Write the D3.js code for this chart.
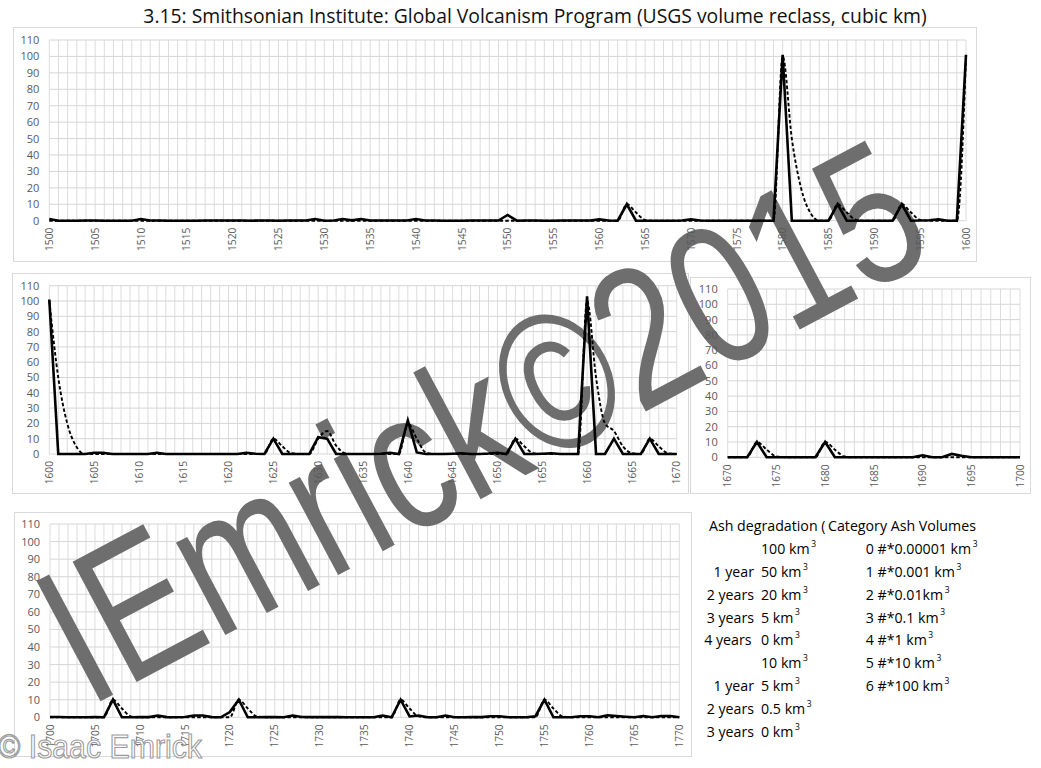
<!DOCTYPE html>
<html><head><meta charset="utf-8">
<script src="https://cdn.jsdelivr.net/npm/d3@7"></script>
<style>body{margin:0;background:#fff;overflow:hidden}</style>
</head><body>
<svg id="c" width="1041" height="768"></svg>
<script>
// ---------- DATA ----------
const titleText = "3.15: Smithsonian Institute: Global Volcanism Program (USGS volume reclass, cubic km)";
const yTickValues = [0, 10, 20, 30, 40, 50, 60, 70, 80, 90, 100, 110];

// eruption volume (solid) and ash degradation (dashed), one value per year
const volume1500 = [
  1, 0, 0, 0, 0.1, 0.1, 0, 0, 0, 0,
  1, 0.1, 0.1, 0, 0, 0, 0, 0.1, 0.1, 0.1,
  0.1, 0.1, 0, 0.1, 0.1, 0, 0.1, 0.1, 0.1, 1,
  0, 0.1, 1, 0.2, 1, 0.1, 0.1, 0.1, 0.1, 0.1,
  1, 0.1, 0.1, 0, 0, 0, 0.1, 0.1, 0.1, 0.1,
  3.5, 0, 0.1, 0.1, 0, 0, 0.1, 0.1, 0.1, 0.1,
  0.8, 0.1, 0, 10, 0, 0, 0, 0, 0, 0.1,
  0.8, 0.1, 0, 0, 0, 0, 0, 0, 0, 0,
  101, 0, 0, 0, 0, 0, 10, 0, 0, 0,
  0, 0, 0, 10, 0, 0.1, 0.3, 0.8, 0, 0,
  101];
const ash1500 = [
  0, 0, 0, 0, 0, 0, 0, 0, 0, 0,
  0, 0, 0, 0, 0, 0, 0, 0, 0, 0,
  0, 0, 0, 0, 0, 0, 0, 0, 0, 0,
  0, 0, 0, 0, 0, 0, 0, 0, 0, 0,
  0, 0, 0, 0, 0, 0, 0, 0, 0, 0,
  0, 0, 0, 0, 0, 0, 0, 0, 0, 0,
  0, 0, 0, 10, 5, 0.5, 0, 0, 0, 0,
  0, 0, 0, 0, 0, 0, 0, 0, 0, 0,
  100, 50, 20, 5, 0, 0, 10, 5, 0.5, 0,
  0, 0, 0, 10, 5, 0.5, 0, 0, 0, 0,
  100];

const volume1600 = [
  101, 0, 0, 0, 0, 0.8, 0.8, 0, 0, 0,
  0, 0, 0.8, 0, 0, 0, 0, 0, 0, 0,
  0, 0, 0.8, 0.2, 0, 10, 0, 0, 0, 0,
  11, 10, 0, 0, 0, 0, 0, 0.2, 0.8, 0,
  22, 1, 0, 0, 0, 0.2, 0.5, 0, 0, 0.3,
  0.8, 0, 10, 0, 0, 0.2, 0.5, 0, 0, 0,
  103, 0, 0, 10, 0, 0, 0, 10, 0, 0,
  0];
const ash1600 = [
  100, 50, 20, 5, 0, 0, 0, 0, 0, 0,
  0, 0, 0, 0, 0, 0, 0, 0, 0, 0,
  0, 0, 0, 0, 0, 10, 5, 0.5, 0, 0,
  10, 15, 5.5, 0.5, 0, 0, 0, 0, 0, 0,
  20, 10, 1, 0, 0, 0, 0, 0, 0, 0,
  0, 0, 10, 5, 0.5, 0, 0, 0, 0, 0,
  100, 50, 20, 15, 5, 0.5, 0, 10, 5, 0.5,
  0];

const volume1670 = [
  0, 0, 0, 10, 0, 0, 0, 0, 0, 0,
  10, 0, 0, 0, 0, 0, 0, 0, 0, 0,
  1.3, 0, 0, 2.2, 1, 0, 0, 0, 0, 0,
  0];
const ash1670 = [
  0, 0, 0, 10, 5, 0.5, 0, 0, 0, 0,
  10, 5, 0.5, 0, 0, 0, 0, 0, 0, 0,
  0, 0, 0, 0, 0, 0, 0, 0, 0, 0,
  0];

const volume1700 = [
  0.2, 0.2, 0, 0, 0, 0.1, 0, 10, 0, 0,
  0.1, 0.1, 1, 0.1, 0, 0.2, 1, 1, 0.1, 0,
  3, 10, 0, 0, 0.1, 0.1, 0, 1, 0.2, 0.1,
  0.1, 0.1, 0.1, 0, 0, 0, 0, 1, 0, 10,
  0.5, 1, 0, 0, 1, 0, 0, 0.1, 0.1, 0.6,
  0.6, 0, 0, 0, 0.6, 10, 0, 0, 0, 0.6,
  0.6, 0, 1.2, 0.7, 0.3, 0, 0.7, 0, 0.7, 0.7,
  0];
const ash1700 = [
  0, 0, 0, 0, 0, 0, 0, 10, 5, 0.5,
  0, 0, 0, 0, 0, 0, 0, 0, 0, 0,
  0, 10, 5, 0.5, 0, 0, 0, 0, 0, 0,
  0, 0, 0, 0, 0, 0, 0, 0, 0, 10,
  5, 0.5, 0, 0, 0, 0, 0, 0, 0, 0,
  0, 0, 0, 0, 0, 10, 5, 0.5, 0, 0,
  0, 0, 0, 0, 0, 0, 0, 0, 0, 0,
  0];

// side table
const tableHeaderLeft = "Ash degradation (";
const tableHeaderRight = "Category Ash Volumes";
const degradationLabels = ["", "1 year", "2 years", "3 years", "4 years", "", "1 year", "2 years", "3 years"];
const degradationVolumes = ["100 km", "50 km", "20 km", "5 km", "0 km", "10 km", "5 km", "0.5 km", "0 km"];
const categoryNumbers = ["0", "1", "2", "3", "4", "5", "6"];
const categoryVolumes = ["#*0.00001 km", "#*0.001 km", "#*0.01km", "#*0.1 km", "#*1 km", "#*10 km", "#*100 km"];

const watermarkText = "IEmrick\u00A92015";
const creditText = "\u00A9 Isaac Emrick";

// ---------- LAYOUT ----------
const W = 1041, H = 768;
const svg = d3.select("#c");
svg.append("rect").attr("width", W).attr("height", H).attr("fill", "#fff");

const panels = [
  {first: 1500, vol: volume1500, ash: ash1500, box: [13, 27, 976, 261], plot: [49.3, 40, 966, 220.7]},
  {first: 1600, vol: volume1600, ash: ash1600, box: [12, 273, 688, 493], plot: [49.3, 285.7, 676.7, 454]},
  {first: 1670, vol: volume1670, ash: ash1670, box: [690, 277, 1030, 493], plot: [727.7, 289, 1020, 457.3]},
  {first: 1700, vol: volume1700, ash: ash1700, box: [14, 512, 691, 756], plot: [50, 524, 679.3, 717.3]}
];

const gBox = svg.append("g"), gGrid = svg.append("g"), gWater = svg.append("g"),
      gAxis = svg.append("g"), gLines = svg.append("g"), gText = svg.append("g");

const labelFont = "'Open Sans', 'Noto Sans', sans-serif";

panels.forEach(p => {
  const last = p.first + p.vol.length - 1;
  const x = d3.scaleLinear().domain([p.first, last]).range([p.plot[0], p.plot[2]]);
  const y = d3.scaleLinear().domain([0, 110]).range([p.plot[3], p.plot[1]]);

  gBox.append("rect")
    .attr("x", p.box[0] + 0.5).attr("y", p.box[1] + 0.5)
    .attr("width", p.box[2] - p.box[0]).attr("height", p.box[3] - p.box[1])
    .attr("fill", "#fff").attr("stroke", "#d9d9d9").attr("stroke-width", 1);

  const years = d3.range(p.first, last + 1);
  gGrid.selectAll(null).data(years).enter().append("line")
    .attr("x1", d => x(d)).attr("x2", d => x(d))
    .attr("y1", y(0)).attr("y2", y(110))
    .attr("stroke", "#dcdcdc").attr("stroke-width", 1);
  gGrid.selectAll(null).data(yTickValues).enter().append("line")
    .attr("x1", x(p.first)).attr("x2", x(last))
    .attr("y1", d => y(d)).attr("y2", d => y(d))
    .attr("stroke", "#d6d6d6").attr("stroke-width", 1);

  gAxis.selectAll(null).data(yTickValues).enter().append("text")
    .attr("x", x(p.first) - 10).attr("y", d => y(d)).attr("dy", "0.36em")
    .attr("text-anchor", "end").attr("font-family", labelFont)
    .attr("font-size", 11).attr("fill", "#595959").text(d => d);

  const xTicks = years.filter(d => d % 5 === 0);
  gAxis.selectAll(null).data(xTicks).enter().append("text")
    .attr("transform", d => `translate(${x(d)},${y(0) + 7}) rotate(-90)`)
    .attr("dy", "0.36em").attr("text-anchor", "end")
    .attr("font-family", labelFont).attr("font-size", 10.2)
    .attr("fill", "#595959").text(d => d);

  const ashLine = d3.line().x((d, i) => x(p.first + i)).y(d => y(d)).curve(d3.curveMonotoneX);
  const volLine = d3.line().x((d, i) => x(p.first + i)).y(d => y(d));

  gLines.append("path").attr("d", ashLine(p.ash)).attr("fill", "none")
    .attr("stroke", "#000").attr("stroke-width", 1.9).attr("stroke-dasharray", "3.5,2.2");
  gLines.append("path").attr("d", volLine(p.vol)).attr("fill", "none")
    .attr("stroke", "#000").attr("stroke-width", 2.6).attr("stroke-linejoin", "miter");
});

// ---------- TITLE ----------
function fitText(sel, target) {
  const fs = +sel.attr("font-size");
  const w = sel.node().getComputedTextLength();
  sel.attr("font-size", fs * target / w);
  return fs * target / w;
}
const title = gText.append("text").attr("x", 535).attr("y", 22.5)
  .attr("text-anchor", "middle").attr("font-family", labelFont)
  .attr("font-size", 20).attr("fill", "#111").text(titleText);
fitText(title, 784);

// ---------- SIDE TABLE ----------
const hdrR = gText.append("text").attr("x", 828).attr("y", 531)
  .attr("font-family", labelFont).attr("font-size", 15).attr("fill", "#000").text(tableHeaderRight);
const tfs = fitText(hdrR, 148);
gText.append("text").attr("x", 709).attr("y", 531)
  .attr("font-family", labelFont).attr("font-size", tfs).attr("fill", "#000").text(tableHeaderLeft);

const rowY = i => 553.8 + i * 22.9;
function kmText(xp, yp, str, anchor) {
  const t = gText.append("text").attr("x", xp).attr("y", yp)
    .attr("font-family", labelFont).attr("font-size", tfs).attr("fill", "#000")
    .attr("text-anchor", anchor || "start");
  t.append("tspan").text(str);
  t.append("tspan").attr("font-size", tfs * 0.6).attr("dy", -tfs * 0.5).attr("dx", 1.5).text("3");
  return t;
}
degradationLabels.forEach((s, i) => {
  if (s) gText.append("text").attr("x", i === 4 ? 751.5 : 754).attr("y", rowY(i))
    .attr("text-anchor", "end").attr("font-family", labelFont)
    .attr("font-size", tfs).attr("fill", "#000").text(s);
});
degradationVolumes.forEach((s, i) => kmText(761, rowY(i), s));
categoryVolumes.forEach((s, i) => kmText(865.7, rowY(i), categoryNumbers[i] + " " + s));

// ---------- WATERMARK ----------
gWater.append("text")
  .attr("transform", "translate(88,708) rotate(-28)")
  .attr("font-family", "'Liberation Sans', Arial, sans-serif")
  .attr("font-size", 198).attr("textLength", 965).attr("lengthAdjust", "spacingAndGlyphs")
  .attr("fill", "#6e6e6e").text(watermarkText);

gText.append("text").attr("x", -2).attr("y", 758)
  .attr("font-family", "'Liberation Sans', Arial, sans-serif").attr("font-size", 34)
  .attr("textLength", 204).attr("lengthAdjust", "spacingAndGlyphs")
  .attr("fill", "#ffffff").attr("fill-opacity", 0.75)
  .attr("stroke", "#8f8f8f").attr("stroke-opacity", 0.9).attr("stroke-width", 1.2).text(creditText);
</script>
</body></html>
